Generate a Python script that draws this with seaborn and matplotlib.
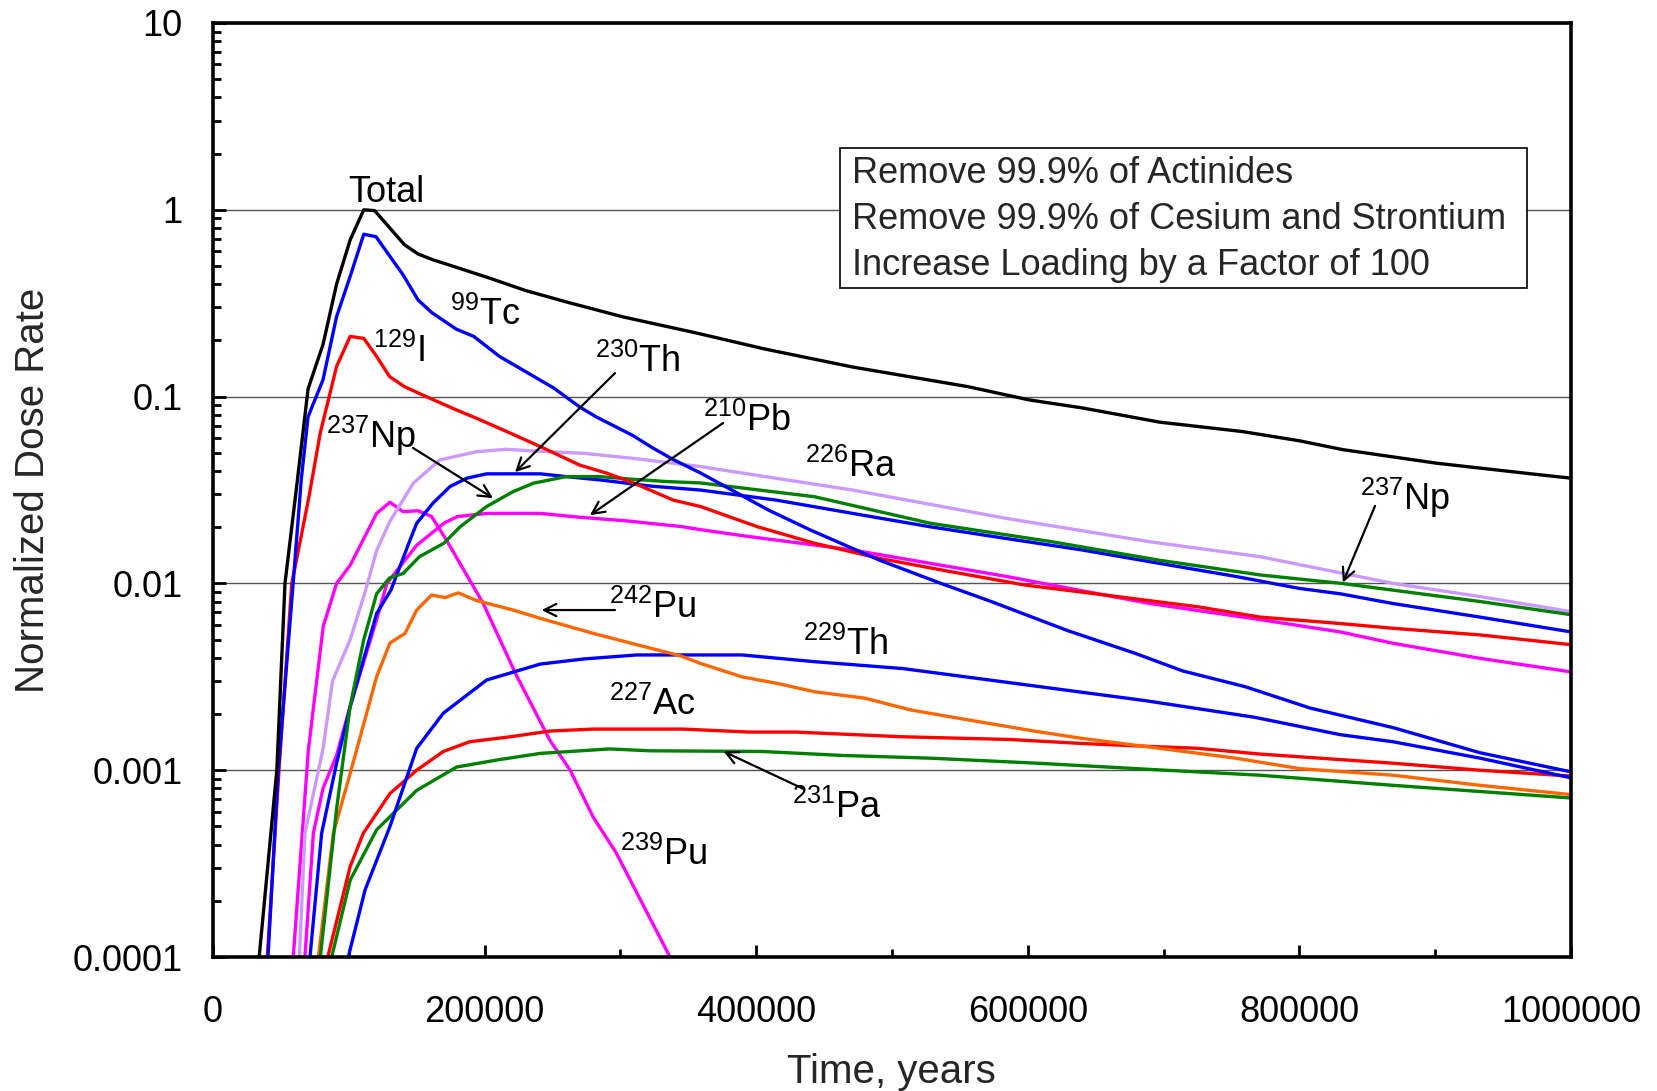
import matplotlib
matplotlib.use("Agg")
import matplotlib.pyplot as plt
import matplotlib.ticker as mticker
from matplotlib.patches import Rectangle
import seaborn as sns
import pandas as pd

# dose curves (time in years, normalized dose rate)
total_x = [34e3, 47e3, 53e3, 62e3, 70e3, 81e3, 91e3, 101e3, 111e3, 119e3, 141e3, 151e3, 162e3, 180e3,
           204e3, 230e3, 261e3, 302e3, 356e3, 406e3, 471e3, 556e3, 601e3, 640e3, 697e3, 758e3, 800e3,
           832e3, 901e3, 979e3, 1000e3]
total_y = [1e-4, 1e-3, 0.01, 0.035, 0.11, 0.19, 0.40, 0.69, 1.0, 0.99, 0.65, 0.58, 0.54, 0.49,
           0.43, 0.37, 0.32, 0.267, 0.219, 0.18, 0.144, 0.113, 0.096, 0.087, 0.073, 0.065, 0.058,
           0.052, 0.044, 0.038, 0.0366]

tc99_x = [40.5e3, 48e3, 59e3, 65e3, 70e3, 81e3, 91e3, 101e3, 111e3, 120e3, 140e3, 151e3, 161e3, 179e3,
          192e3, 211e3, 228e3, 251e3, 270e3, 282e3, 309e3, 324e3, 339e3, 359e3, 409e3, 440e3, 491e3,
          536e3, 573e3, 629e3, 680e3, 714e3, 760e3, 808e3, 869e3, 933e3, 1000e3]
tc99_y = [1e-4, 1e-3, 0.01, 0.036, 0.078, 0.123, 0.268, 0.44, 0.74, 0.718, 0.448, 0.329, 0.282, 0.23,
          0.21, 0.164, 0.139, 0.111, 0.088, 0.078, 0.062, 0.053, 0.046, 0.039, 0.0247, 0.0193, 0.0133,
          0.01, 0.008, 0.0056, 0.0042, 0.0034, 0.0028, 0.00215, 0.00169, 0.00124, 0.00098]

i129_x = [40e3, 48.6e3, 58e3, 65e3, 71e3, 79e3, 91e3, 101e3, 111e3, 120.5e3, 130e3, 141e3, 157e3, 179e3,
          194e3, 219e3, 241e3, 270e3, 290e3, 310e3, 339e3, 359e3, 401e3, 443e3, 491e3, 542e3, 598e3,
          655e3, 725e3, 771e3, 830e3, 869e3, 933e3, 1000e3]
i129_y = [1e-4, 1e-3, 0.01, 0.018, 0.03, 0.064, 0.145, 0.21, 0.205, 0.164, 0.128, 0.113, 0.1, 0.085,
          0.0766, 0.0637, 0.054, 0.043, 0.0389, 0.0344, 0.0279, 0.0258, 0.0201, 0.0164, 0.0136, 0.0116,
          0.0098, 0.0087, 0.0075, 0.0066, 0.0061, 0.00575, 0.0053, 0.0047]

np237_x = [79e3, 91e3, 101e3, 111e3, 120.5e3, 130e3, 140e3, 152e3, 170e3, 182e3, 201.5e3, 221e3, 236e3,
           260e3, 285e3, 309e3, 334e3, 359e3, 443e3, 528e3, 618e3, 697e3, 771e3, 831e3, 869e3, 933e3,
           1000e3]
np237_y = [1e-4, 0.00062, 0.0022, 0.005, 0.0088, 0.0107, 0.0113, 0.0139, 0.0164, 0.0201, 0.0258, 0.031,
           0.0344, 0.0373, 0.0373, 0.0361, 0.0351, 0.0345, 0.0291, 0.021, 0.0167, 0.0133, 0.0111, 0.01,
           0.0092, 0.008, 0.0068]

th230_x = [71.4e3, 80e3, 91e3, 101e3, 120.5e3, 131e3, 145e3, 150e3, 162e3, 174.5e3, 187e3, 201.5e3, 241e3,
           260e3, 285e3, 322e3, 359e3, 415e3, 471e3, 528e3, 584e3, 640e3, 697e3, 753e3, 800e3, 830e3,
           869e3, 933e3, 1000e3]
th230_y = [1e-4, 0.00046, 0.00109, 0.00219, 0.0069, 0.0092, 0.017, 0.021, 0.0269, 0.033, 0.0366, 0.0386,
           0.0386, 0.0373, 0.0358, 0.0332, 0.0316, 0.0279, 0.0237, 0.0201, 0.0174, 0.0151, 0.0128, 0.0109,
           0.0094, 0.0088, 0.0078, 0.0066, 0.0055]

ra226_x = [63.6e3, 67.7e3, 81e3, 88e3, 101e3, 112e3, 120.5e3, 130.3e3, 147.5e3, 167e3, 194e3, 216e3, 236e3,
           273e3, 309.5e3, 359e3, 471e3, 584e3, 690e3, 771e3, 869e3, 933e3, 1000e3]
ra226_y = [1e-4, 0.00046, 0.0013, 0.003, 0.005, 0.009, 0.0150, 0.0215, 0.0344, 0.0458, 0.0507, 0.0522,
           0.0512, 0.0497, 0.0467, 0.0422, 0.0316, 0.0223, 0.0167, 0.0139, 0.01, 0.0085, 0.00706]

pb210_x = [67.7e3, 73.9e3, 81e3, 91e3, 101e3, 120.5e3, 128e3, 150e3, 170e3, 180e3, 201.5e3, 241e3, 270e3,
           305e3, 346e3, 359e3, 395e3, 471e3, 584e3, 690e3, 771e3, 830e3, 869e3, 933e3, 1000e3]
pb210_y = [1e-4, 0.00046, 0.0008, 0.0012, 0.0022, 0.0064, 0.01, 0.016, 0.021, 0.0228, 0.0237, 0.0237,
           0.0226, 0.0216, 0.0201, 0.0194, 0.0178, 0.0151, 0.0109, 0.0078, 0.0064, 0.0055, 0.00478,
           0.00397, 0.00336]

pu242_x = [77.6e3, 88.6e3, 101e3, 120.5e3, 130.3e3, 141.4e3, 150e3, 161e3, 171e3, 180.6e3, 194e3, 221e3,
           241e3, 280e3, 317e3, 344e3, 359e3, 389.5e3, 415e3, 443e3, 480e3, 514e3, 556e3, 607e3, 640e3,
           697e3, 753e3, 800e3, 869e3, 933e3, 1000e3]
pu242_y = [1e-4, 0.00046, 0.00096, 0.00317, 0.0048, 0.0054, 0.0072, 0.00867, 0.0084, 0.0089, 0.0081,
           0.0072, 0.0065, 0.0054, 0.0046, 0.0041, 0.00373, 0.00316, 0.00292, 0.00263, 0.00243, 0.0021,
           0.00186, 0.00161, 0.00148, 0.00131, 0.00116, 0.00102, 0.00094, 0.00083, 0.00074]

th229_x = [99.6e3, 112e3, 130.3e3, 150e3, 169.6e3, 201.5e3, 241e3, 273e3, 312e3, 389.5e3, 443e3, 508e3,
           590e3, 686e3, 767e3, 830e3, 869e3, 933e3, 1000e3]
th229_y = [1e-4, 0.000229, 0.0005, 0.00131, 0.00202, 0.00304, 0.0037, 0.00394, 0.00414, 0.00414, 0.00381,
           0.0035, 0.00292, 0.00236, 0.00192, 0.00155, 0.00142, 0.00116, 0.00091]

ac227_x = [84.5e3, 101e3, 110.7e3, 130.3e3, 150e3, 169.6e3, 189e3, 219e3, 248e3, 280e3, 346e3, 395e3,
           429e3, 508e3, 587e3, 640e3, 690e3, 725e3, 771e3, 800e3, 869e3, 933e3, 1000e3]
ac227_y = [1e-4, 0.000305, 0.00046, 0.00075, 0.001, 0.00126, 0.00142, 0.00151, 0.00162, 0.00166, 0.00166,
           0.0016, 0.0016, 0.00151, 0.00146, 0.00139, 0.00134, 0.00131, 0.00122, 0.00118, 0.00109, 0.001,
           0.00093]

pa231_x = [87.4e3, 101e3, 120.5e3, 150e3, 179.4e3, 211e3, 241e3, 292e3, 322e3, 404e3, 463e3, 528e3, 607e3,
           690e3, 771e3, 869e3, 1000e3]
pa231_y = [1e-4, 0.000258, 0.00048, 0.00078, 0.00104, 0.00114, 0.00123, 0.0013, 0.00127, 0.00126, 0.0012,
           0.00116, 0.00109, 0.00101, 0.00094, 0.00083, 0.00071]

pu239_x = [59.1e3, 70.2e3, 81.2e3, 91e3, 101e3, 120.5e3, 130.3e3, 140e3, 151e3, 161e3, 172e3, 199e3,
           223.6e3, 248e3, 263e3, 280e3, 297e3, 336.5e3]
pu239_y = [1e-4, 0.00128, 0.0059, 0.01, 0.0125, 0.0237, 0.0272, 0.0242, 0.0245, 0.0228, 0.017, 0.0078,
           0.0032, 0.00145, 0.001, 0.00056, 0.00036, 1e-4]

series = {
    "Total": (total_x, total_y, "black"),
    "Tc-99": (tc99_x, tc99_y, "#0000FF"),
    "I-129": (i129_x, i129_y, "#FF0000"),
    "Np-237": (np237_x, np237_y, "#008000"),
    "Th-230": (th230_x, th230_y, "#0000FF"),
    "Ra-226": (ra226_x, ra226_y, "#CC99FF"),
    "Pb-210": (pb210_x, pb210_y, "#FF00FF"),
    "Pu-242": (pu242_x, pu242_y, "#FF6600"),
    "Th-229": (th229_x, th229_y, "#0000FF"),
    "Ac-227": (ac227_x, ac227_y, "#FF0000"),
    "Pa-231": (pa231_x, pa231_y, "#008000"),
    "Pu-239": (pu239_x, pu239_y, "#FF00FF"),
}

frames = []
for name, (xs, ys, c) in series.items():
    frames.append(pd.DataFrame({"t": xs, "dose": ys, "nuclide": name}))
df = pd.concat(frames, ignore_index=True)
palette = {k: v[2] for k, v in series.items()}

sns.set_theme(style="white")
plt.rcParams["font.family"] = ["Liberation Sans", "DejaVu Sans"]
plt.rcParams["mathtext.default"] = "regular"

fig = plt.figure(figsize=(16.57, 10.91), dpi=100)
ax = fig.add_axes([0.12855, 0.12282, 0.81955, 0.85610])

sns.lineplot(data=df, x="t", y="dose", hue="nuclide", hue_order=list(series.keys())[::-1],
             palette=palette, estimator=None, sort=False, legend=False, lw=2.4, ax=ax)

ax.set_yscale("log")
ax.set_ylim(1e-4, 10)
ax.set_xlim(0, 1e6)
ax.set_axisbelow(True)
ax.yaxis.grid(True, which="major", color="#555555", lw=1.0)
ax.xaxis.grid(False)

ax.xaxis.set_major_locator(mticker.MultipleLocator(200000))
ax.xaxis.set_minor_locator(mticker.MultipleLocator(100000))
ax.xaxis.set_major_formatter(mticker.FuncFormatter(lambda v, p: f"{int(round(v))}"))
ax.yaxis.set_major_locator(mticker.LogLocator(base=10, numticks=10))
ax.yaxis.set_minor_locator(mticker.LogLocator(base=10, subs=range(2, 10), numticks=10))
ax.yaxis.set_major_formatter(mticker.FuncFormatter(lambda v, p: f"{v:g}"))
ax.yaxis.set_minor_formatter(mticker.NullFormatter())

ax.tick_params(which="both", direction="in", colors="black", width=2,
               bottom=True, left=True, top=False, right=False)
ax.tick_params(which="major", length=9)
ax.tick_params(which="minor", length=6)
ax.tick_params(axis="x", which="both", labelsize=26, pad=27)
ax.tick_params(axis="y", which="both", labelsize=26, pad=22)

for sp in ax.spines.values():
    sp.set_linewidth(2.6)
    sp.set_color("black")

ax.set_xlabel("Time, years", fontsize=29)
ax.set_ylabel("Normalized Dose Rate", fontsize=29)
ax.xaxis.set_label_coords(0.4993, -0.1025)
ax.yaxis.set_label_coords(-0.1185, 0.5)

# curve labels
lab = dict(fontsize=26, ha="center", va="baseline", color="black")
ax.text(127.4e3, 1.10, "Total", **lab)
ax.text(200.7e3, 0.2415, r"$^{99}$Tc", **lab)
ax.text(137.3e3, 0.153, r"$^{129}$I", **lab)
ax.text(313e3, 0.1355, r"$^{230}$Th", **lab)
ax.text(116.7e3, 0.0531, r"$^{237}$Np", **lab)
ax.text(393e3, 0.0654, r"$^{210}$Pb", **lab)
ax.text(469.8e3, 0.0372, r"$^{226}$Ra", **lab)
ax.text(877.8e3, 0.0247, r"$^{237}$Np", **lab)
ax.text(323.6e3, 0.00653, r"$^{242}$Pu", **lab)
ax.text(465.8e3, 0.00414, r"$^{229}$Th", **lab)
ax.text(323.6e3, 0.00198, r"$^{227}$Ac", **lab)
ax.text(459.5e3, 0.000555, r"$^{231}$Pa", **lab)
ax.text(331.7e3, 0.000311, r"$^{239}$Pu", **lab)

arrow = dict(arrowstyle="->", color="black", lw=1.6, mutation_scale=22, shrinkA=0, shrinkB=0)
ax.annotate("", xy=(206.2e3, 0.0286), xytext=(147.3e3, 0.0531), arrowprops=arrow)
ax.annotate("", xy=(222.4e3, 0.0394), xytext=(296e3, 0.1336), arrowprops=arrow)
ax.annotate("", xy=(277.6e3, 0.0232), xytext=(375.6e3, 0.0722), arrowprops=arrow)
ax.annotate("", xy=(832e3, 0.0101), xytext=(855.7e3, 0.026), arrowprops=arrow)
ax.annotate("", xy=(242e3, 0.0072), xytext=(296e3, 0.0072), arrowprops=arrow)
ax.annotate("", xy=(376e3, 0.00126), xytext=(434.5e3, 0.000796), arrowprops=arrow)

# scenario box
ax.add_patch(Rectangle((0.4617, 0.7163), 0.5059, 0.1499, transform=ax.transAxes,
                       facecolor="white", edgecolor="black", lw=1.2, zorder=5))
box_lines = ["Remove 99.9% of Actinides",
             "Remove 99.9% of Cesium and Strontium",
             "Increase Loading by a Factor of 100"]
for txt, yy in zip(box_lines, [0.8287, 0.7794, 0.7302]):
    ax.text(0.4705, yy, txt, transform=ax.transAxes, fontsize=26, ha="left", va="baseline", zorder=6)

fig.savefig("out.png", dpi=100)
